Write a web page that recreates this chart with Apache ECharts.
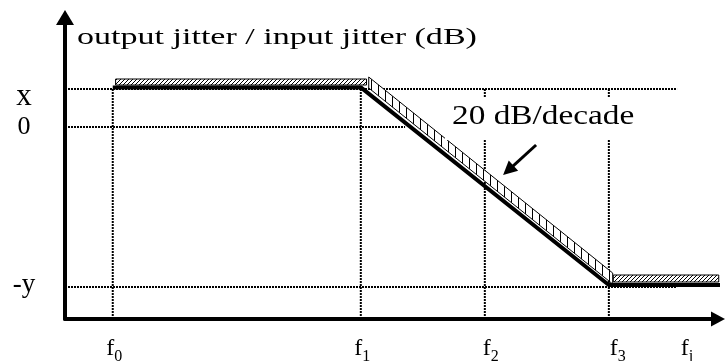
<!DOCTYPE html>
<html><head><meta charset="utf-8">
<script src="https://cdn.jsdelivr.net/npm/echarts@6/dist/echarts.min.js"></script>
<style>html,body{margin:0;padding:0;background:#fff}#c{width:725px;height:361px}</style>
</head><body><div id="c"></div>
<script>
// ---- data (abstract log-frequency units on x, dB-like units on y) ----
const fPositions = [0, 2, 3, 4];            // f0, f1, f2, f3
const fLabelSubs = ['0', '1', '2', '3', 'j'];
const fjPosition = 4.63;
const levelNames = ['x', '0', '-y'];
const levelValues = [0.95, 0, -4];
// thick jitter-transfer curve
const responseX = [0, 2, 4, 4.95];
const responseY = [0.99, 0.99, -3.95, -3.95];
// hatched mask bands (polygons)
const bandFlatLow = [[0.023, 1.05], [2.046, 1.05], [2.046, 1.2], [0.023, 1.2]];
const bandSlope = [[2.064, 1.25], [4.031, -3.65], [4.031, -3.925], [2.064, 0.975]];
const bandFlatHigh = [[4.036, -3.7], [4.886, -3.7], [4.886, -3.875], [4.036, -3.875]];
// dotted guides
const hGuideLevels = [0.95, 0, -4];
const hGuideEnds = [4.55, 2.357, 4.55];
const guideStartX = -0.385;
const vGuideTop = 0.95;
const axisMinY = -4.8, axisMaxY = 2.7375;
const axisMinX = -0.385, axisMaxX = 4.88;
// annotation
const titleText = 'output jitter / input jitter (dB)';
const slopeText = '20 dB/decade';
const arrowFrom = [3.413, -0.45];
const arrowTo = [3.189, -1.083];

function hatch(w, h, fn) {
  const c = document.createElement('canvas');
  c.width = w; c.height = h;
  const g = c.getContext('2d');
  g.fillStyle = '#fff'; g.fillRect(0, 0, w, h);
  g.strokeStyle = '#000'; g.lineWidth = 1;
  fn(g, w, h);
  return c;
}
const diagPattern = {image: hatch(4, 4, g => {
  g.beginPath(); g.moveTo(-1, 5); g.lineTo(5, -1);
  g.moveTo(-1, 1); g.lineTo(1, -1); g.moveTo(3, 5); g.lineTo(5, 3); g.stroke();
}), repeat: 'repeat'};
const vertPattern = {image: hatch(7, 4, g => {
  g.beginPath(); g.moveTo(0.5, 0); g.lineTo(0.5, 4); g.stroke();
}), repeat: 'repeat'};
const bands = [bandFlatLow, bandSlope, bandFlatHigh];
const bandFills = [diagPattern, vertPattern, diagPattern];

const FONT = '"Liberation Serif", "Times New Roman", serif';
const dotted = {color: '#000', width: 2, type: [2, 1]};

const series = [];
hGuideLevels.forEach((lv, i) => {
  series.push({type: 'line', silent: true, symbol: 'none', z: 1, animation: false,
    lineStyle: dotted, data: [[guideStartX, lv], [hGuideEnds[i], lv]]});
});
fPositions.forEach(fx => {
  series.push({type: 'line', silent: true, symbol: 'none', z: 1, animation: false,
    lineStyle: dotted, data: [[fx, vGuideTop], [fx, axisMinY]]});
});
series.push({
  type: 'custom', coordinateSystem: 'cartesian2d', silent: true, z: 3, animation: false,
  data: bands.map(b => b[0]),
  renderItem: (params, api) => {
    const b = bands[params.dataIndex];
    return {type: 'polygon', shape: {points: b.map(p => api.coord(p))},
      style: {fill: bandFills[params.dataIndex], stroke: '#000', lineWidth: 1}};
  }
});
series.push({
  type: 'line', silent: true, symbol: 'none', z: 4, clip: false, animation: false,
  lineStyle: {color: '#000', width: 4},
  data: responseX.map((x, i) => [x, responseY[i]]),
  markLine: {
    silent: true, animation: false, symbol: ['none', 'triangle'], symbolSize: [14, 14],
    label: {show: false},
    lineStyle: {color: '#000', width: 3, type: 'solid'},
    data: [[{coord: arrowFrom}, {coord: arrowTo}]]
  }
});

const xShiftPad = [3, 3, 12, 18, 0];
const xRich = {s: {fontFamily: FONT, fontSize: 16, lineHeight: 16, color: '#000', verticalAlign: 'top', padding: [13, 0, 0, 0]}};
xShiftPad.forEach((p, i) => {
  xRich['f' + i] = {fontFamily: FONT, fontSize: 24, lineHeight: 26, color: '#000', padding: [0, 0, 0, p]};
});
const yRich = {
  l0: {fontFamily: FONT, fontSize: 31, color: '#000', padding: [16, 0, 0, 0]},
  l1: {fontFamily: FONT, fontSize: 26, color: '#000'},
  l2: {fontFamily: FONT, fontSize: 27, color: '#000', padding: [0, 0, 4, 0]}
};

const option = {
  backgroundColor: '#fff',
  animation: false,
  grid: {left: 65, right: 7, top: 17.5, bottom: 42, containLabel: false, outerBoundsMode: 'none'},
  xAxis: {
    type: 'value', min: axisMinX, max: axisMaxX,
    splitLine: {show: false}, axisTick: {show: false},
    axisLine: {show: true, onZero: false, lineStyle: {color: '#000', width: 4},
      symbol: ['none', 'triangle'], symbolSize: [15, 14]},
    axisLabel: {
      customValues: fPositions.concat([fjPosition]),
      margin: 17,
      formatter: (v) => {
        let i = fPositions.indexOf(v);
        if (i < 0) i = 4;
        return '{f' + i + '|f}{s|' + fLabelSubs[i] + '}';
      },
      rich: xRich
    }
  },
  yAxis: {
    type: 'value', min: axisMinY, max: axisMaxY,
    splitLine: {show: false}, axisTick: {show: false},
    axisLine: {show: true, onZero: false, lineStyle: {color: '#000', width: 4},
      symbol: ['none', 'triangle'], symbolSize: [18, 15]},
    axisLabel: {
      customValues: levelValues,
      margin: 41, align: 'center',
      formatter: (v) => {
        const i = levelValues.indexOf(v);
        return '{l' + i + '|' + levelNames[i] + '}';
      },
      rich: yRich
    }
  },
  graphic: [
    {type: 'rect', z: 90, silent: true, shape: {x: 445, y: 97, width: 200, height: 43}, style: {fill: '#fff'}},
    {type: 'text', z: 100, silent: true, x: 77, y: 37.5, scaleX: 1.48,
      style: {text: titleText, fontFamily: FONT, fontSize: 23, fill: '#000', verticalAlign: 'middle', align: 'left'}},
    {type: 'text', z: 100, silent: true, x: 452, y: 116.7, scaleX: 1.19,
      style: {text: slopeText, fontFamily: FONT, fontSize: 28, fill: '#000', verticalAlign: 'middle', align: 'left'}}
  ],
  series: series
};
const chart = echarts.init(document.getElementById('c'));
chart.setOption(option);
</script></body></html>
